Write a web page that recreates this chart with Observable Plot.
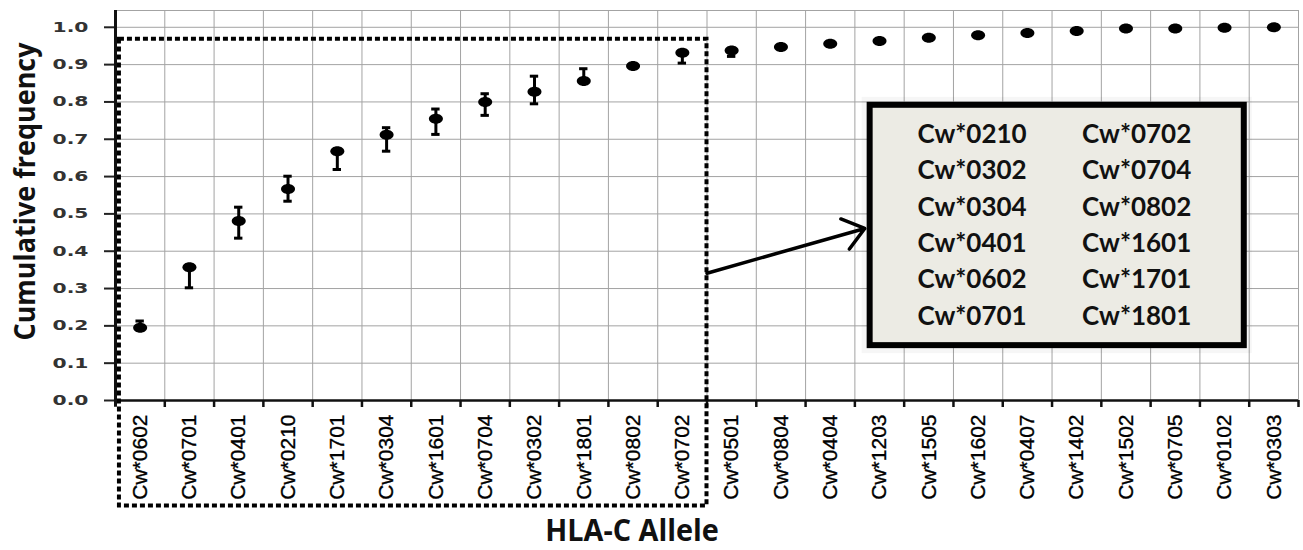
<!DOCTYPE html>
<html><head><meta charset="utf-8">
<script src="https://cdn.jsdelivr.net/npm/d3@7"></script>
<script src="https://cdn.jsdelivr.net/npm/@observablehq/plot@0.6"></script>
<style>
body{margin:0;background:#fff;}
#chart{width:1303px;height:550px;}
</style></head><body><div id="chart"></div>
<script>
// ---- data ----
const alleles = ["Cw*0602","Cw*0701","Cw*0401","Cw*0210","Cw*1701","Cw*0304","Cw*1601","Cw*0704","Cw*0302","Cw*1801","Cw*0802","Cw*0702",
                 "Cw*0501","Cw*0804","Cw*0404","Cw*1203","Cw*1505","Cw*1602","Cw*0407","Cw*1402","Cw*1502","Cw*0705","Cw*0102","Cw*0303"];
const freq    = [0.195,0.357,0.481,0.567,0.668,0.712,0.755,0.800,0.827,0.856,0.896,0.932,
                 0.938,0.947,0.956,0.963,0.972,0.979,0.985,0.990,0.997,0.997,0.999,1.000];
const errLow  = [0.190,0.302,0.435,0.534,0.619,0.668,0.713,0.764,0.795,0.852,null,0.904,
                 0.922,null,null,null,null,null,null,null,null,null,null,null];
const errHigh = [0.213,0.362,0.518,0.601,0.672,0.731,0.781,0.822,0.869,0.889,null,0.936,
                 0.940,null,null,null,null,null,null,null,null,null,null,null];
const boxAlleles = ["Cw*0210","Cw*0302","Cw*0304","Cw*0401","Cw*0602","Cw*0701",
                    "Cw*0702","Cw*0704","Cw*0802","Cw*1601","Cw*1701","Cw*1801"];
const yTicks = [0,0.1,0.2,0.3,0.4,0.5,0.6,0.7,0.8,0.9,1.0];
const xTitle = "HLA-C Allele";
const yTitle = "Cumulative frequency";
const topGroupSize = 12;

// ---- derived ----
const n = alleles.length;
const data = alleles.map((a, i) => ({allele: a, x: i + 0.5, y: freq[i], lo: errLow[i], hi: errHigh[i]}));
const err = data.filter(d => d.lo != null);
const capHalf = 0.085;
const yMax = 1.045;
const fmt = d => d.toFixed(1);

// ellipse symbol
const ellipse = {
  draw(ctx) {
    const rx = 7, ry = 5, k = 0.5523;
    ctx.moveTo(-rx, 0);
    ctx.bezierCurveTo(-rx, -ry * k, -rx * k, -ry, 0, -ry);
    ctx.bezierCurveTo(rx * k, -ry, rx, -ry * k, rx, 0);
    ctx.bezierCurveTo(rx, ry * k, rx * k, ry, 0, ry);
    ctx.bezierCurveTo(-rx * k, ry, -rx, ry * k, -rx, 0);
    ctx.closePath();
  }
};

// legend box layout (data units)
const box = {x1: 15.31, x2: 22.9, y1: 0.147, y2: 0.791};
const rowTop = 0.713, rowStep = 0.0976;
const colX = [16.27, 19.61];
const legendRows = boxAlleles.map((a, i) => ({text: a, x: colX[Math.floor(i / 6)], y: rowTop - (i % 6) * rowStep}));

const grid = "#a3a3a3";
const plot = Plot.plot({
  width: 1303, height: 550,
  marginLeft: 115, marginRight: 5, marginTop: 10, marginBottom: 150,
  x: {domain: [0, n], axis: null},
  y: {domain: [0, yMax], axis: null},
  style: {background: "transparent", overflow: "visible"},
  marks: [
    // grid
    Plot.ruleY(yTicks.slice(1), {stroke: grid, strokeWidth: 1}),
    Plot.ruleY([yMax], {stroke: grid, strokeWidth: 1}),
    Plot.ruleX(d3.range(1, n + 1), {y1: 0, y2: yMax, stroke: grid, strokeWidth: 1}),
    // y axis ticks
    Plot.axisY(yTicks, {tickSize: 11, tickFormat: () => "", strokeWidth: 2, stroke: "#222"}),
    // y tick labels
    Plot.text(yTicks, {x: 0, y: d => d, text: fmt, textAnchor: "end", dx: -27,
      fontSize: 14, fontWeight: "bold", fontFamily: "DejaVu Sans", fill: "#333"}),
    // x axis tick marks
    Plot.axisX(d3.range(1, n + 1), {tickSize: 7, tickFormat: () => "", strokeWidth: 2.5, stroke: "#111"}),
    // axis lines
    Plot.ruleY([0], {stroke: "#111", strokeWidth: 2.5}),
    Plot.ruleX([0], {y1: -0.018, y2: yMax, stroke: "#111", strokeWidth: 3}),
    // x labels
    Plot.text(data, {x: "x", y: 0, text: "allele", rotate: -90, textAnchor: "end", dy: 14,
      fontSize: 21, fontFamily: "Liberation Sans", fill: "#000", stroke: "#000", strokeWidth: 0.35}),
    // legend box
    Plot.rect([box], {x1: "x1", x2: "x2", y1: "y1", y2: "y2", fill: "none", stroke: "#000", strokeOpacity: 0.035, strokeWidth: 16}),
    Plot.rect([box], {x1: "x1", x2: "x2", y1: "y1", y2: "y2", fill: "#ecebe4", stroke: "#000", strokeWidth: 6}),
    Plot.text(legendRows, {x: "x", y: "y", text: "text", textAnchor: "start", fontSize: 26, fontFamily: "Lato", fontWeight: "bold", fill: "#111"}),
    // dotted grouping box
    Plot.rect([{x1: 0.08, x2: topGroupSize, y1: -0.283, y2: 0.968}], {x1: "x1", x2: "x2", y1: "y1", y2: "y2",
      fill: "none", stroke: "#000", strokeWidth: 4, strokeDasharray: "5,3"}),
    // arrow
    Plot.arrow([{x1: topGroupSize, y1: 0.341, x2: 15.2, y2: 0.461}], {x1: "x1", y1: "y1", x2: "x2", y2: "y2",
      stroke: "#000", strokeWidth: 3.5, headLength: 11, headAngle: 75}),
    // error bars
    Plot.ruleX(err, {x: "x", y1: "lo", y2: "hi", stroke: "#000", strokeWidth: 3}),
    Plot.ruleY(err, {y: "lo", x1: d => d.x - capHalf, x2: d => d.x + capHalf, stroke: "#000", strokeWidth: 3}),
    Plot.ruleY(err, {y: "hi", x1: d => d.x - capHalf, x2: d => d.x + capHalf, stroke: "#000", strokeWidth: 3}),
    // points
    Plot.dot(data, {x: "x", y: "y", symbol: ellipse, fill: "#000", stroke: "none"}),
    // titles
    Plot.text([yTitle], {frameAnchor: "left", textAnchor: "middle", dx: -90, dy: -14, rotate: -90, text: d => d,
      fontSize: 29, fontWeight: "bold", fontFamily: "Open Sans", fill: "#111"}),
    Plot.text([xTitle], {frameAnchor: "bottom", textAnchor: "middle", dx: -75, dy: 140, text: d => d,
      fontSize: 31, fontWeight: "bold", fontFamily: "Open Sans", fill: "#111"})
  ]
});
const sv = d3.select(plot);
const squeeze = (test, sx) => sv.selectAll("text").filter(function () { return test(this.textContent); })
  .attr("transform", function () { return (this.getAttribute("transform") || "") + ` scale(${sx},1)`; });
const tickSet = new Set(yTicks.map(fmt));
squeeze(t => tickSet.has(t), 1.45);
squeeze(t => t === xTitle, 0.93);
squeeze(t => t === yTitle, 0.93);
document.getElementById("chart").appendChild(plot);
</script>
</body></html>
